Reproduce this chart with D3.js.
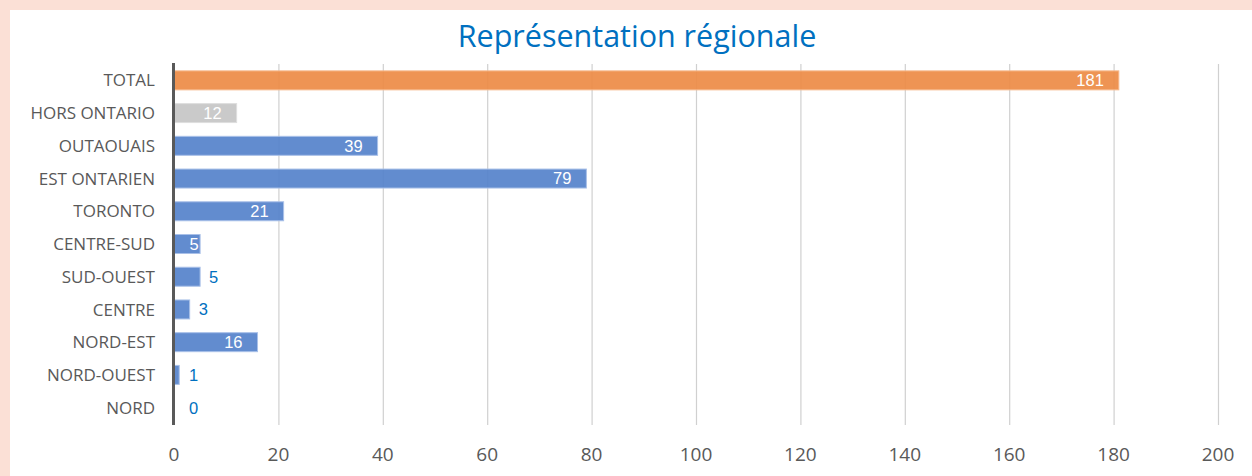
<!DOCTYPE html>
<html>
<head>
<meta charset="utf-8">
<script src="https://cdn.jsdelivr.net/npm/d3@7"></script>
<style>
  html, body { margin: 0; padding: 0; background: #fbe0d6; }
  svg { display: block; }
</style>
</head>
<body>
<script>
// data
var categories = ['TOTAL', 'HORS ONTARIO', 'OUTAOUAIS', 'EST ONTARIEN', 'TORONTO', 'CENTRE-SUD',
                  'SUD-OUEST', 'CENTRE', 'NORD-EST', 'NORD-OUEST', 'NORD'];
var values = [181, 12, 39, 79, 21, 5, 5, 3, 16, 1, 0];
var labelInside = [true, true, true, true, true, true, false, false, true, false, false];
var xTicks = [0, 20, 40, 60, 80, 100, 120, 140, 160, 180, 200];

var width = 1252, height = 476;

var svg = d3.select('body').append('svg')
    .attr('width', width)
    .attr('height', height);

svg.append('rect')
    .attr('x', 10).attr('y', 10)
    .attr('width', width - 10).attr('height', height - 10)
    .attr('fill', '#ffffff');

svg.append('text')
    .attr('x', 637).attr('y', 47)
    .attr('text-anchor', 'middle')
    .style('font-family', 'Open Sans, sans-serif')
    .style('font-size', '30.5px')
    .style('fill', '#0070c0')
    .text('Représentation régionale');

var x = d3.scaleLinear().domain([0, 200]).range([174, 1218]);
var y = d3.scaleBand().domain(categories).range([64, 424]).paddingInner(0.42).paddingOuter(0.21);

// grid
svg.append('g').selectAll('line')
    .data(xTicks.slice(1))
    .enter().append('line')
    .attr('x1', function(d) { return x(d) + 0.5; })
    .attr('x2', function(d) { return x(d) + 0.5; })
    .attr('y1', 64).attr('y2', 425)
    .attr('stroke', '#d0d0d0')
    .attr('stroke-width', 1.2);

function barColor(c) {
    if (c === 'TOTAL') return '#ed8b45';
    if (c === 'HORS ONTARIO') return '#c6c6c6';
    return '#5582cb';
}
function barStroke(c) {
    if (c === 'TOTAL') return '#f6b88c';
    if (c === 'HORS ONTARIO') return '#dedede';
    return '#a9c0e8';
}

var rows = categories.map(function(c, i) {
    return { cat: c, value: values[i], inside: labelInside[i] };
});

var g = svg.append('g').selectAll('.bar')
    .data(rows)
    .enter().append('g');

g.append('rect')
    .attr('x', x(0))
    .attr('y', function(d) { return y(d.cat); })
    .attr('width', function(d) { return x(d.value) - x(0); })
    .attr('height', y.bandwidth())
    .attr('fill', function(d) { return barColor(d.cat); })
    .attr('fill-opacity', 0.92)
    .attr('stroke', function(d) { return barStroke(d.cat); })
    .attr('stroke-width', function(d) { return d.value > 0 ? 1 : 0; });

g.append('text')
    .attr('x', function(d) {
        if (!d.inside) return Math.max(x(d.value) + 9, x(0) + 15);
        // short bars: label hugs the bar end
        return (x(d.value) - x(0) < 40) ? x(d.value) - 1.5 : x(d.value) - 15;
    })
    .attr('y', function(d) { return y(d.cat) + y.bandwidth() / 2; })
    .attr('dy', '0.36em')
    .attr('text-anchor', function(d) { return d.inside ? 'end' : 'start'; })
    .style('font-family', 'Liberation Sans, Arial, sans-serif')
    .style('font-size', '16.5px')
    .style('fill', function(d) { return d.inside ? '#ffffff' : '#0070c0'; })
    .text(function(d) { return d.value; });

// category labels
svg.append('g').selectAll('text')
    .data(categories)
    .enter().append('text')
    .attr('x', 155)
    .attr('y', function(d) { return y(d) + y.bandwidth() / 2; })
    .attr('dy', '0.36em')
    .attr('text-anchor', 'end')
    .style('font-family', 'Open Sans, sans-serif')
    .style('font-size', '17px')
    .style('fill', '#595959')
    .text(function(d) { return d; });

// left axis line
svg.append('line')
    .attr('x1', x(0) - 0.5).attr('x2', x(0) - 0.5)
    .attr('y1', 63).attr('y2', 425)
    .attr('stroke', '#595959')
    .attr('stroke-width', 3);

// tick labels
svg.append('g').selectAll('text')
    .data(xTicks)
    .enter().append('text')
    .attr('x', function(d) { return x(d); })
    .attr('y', 461)
    .attr('text-anchor', 'middle')
    .style('font-family', 'Open Sans, sans-serif')
    .style('font-size', '19px')
    .style('fill', '#595959')
    .text(function(d) { return d; });
</script>
</body>
</html>
